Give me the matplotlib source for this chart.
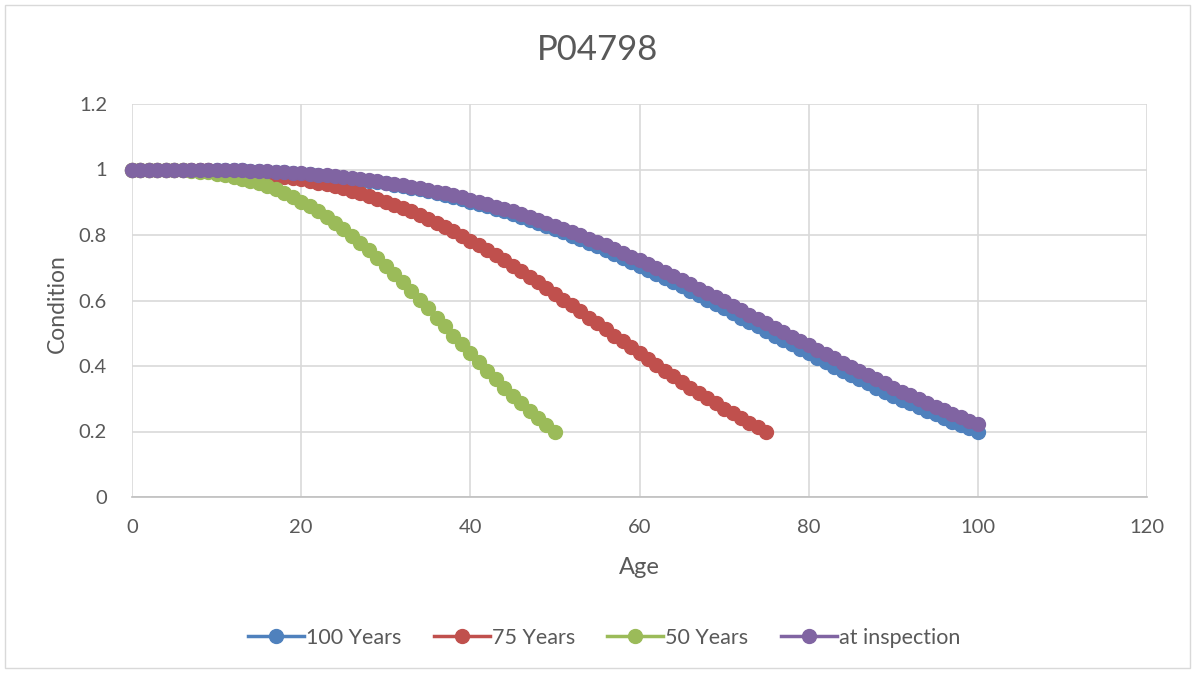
import matplotlib
matplotlib.use("Agg")
import matplotlib.pyplot as plt
from matplotlib.patches import Rectangle

# Condition curves by age (one value per year)
age_100 = list(range(0, 101))
cond_100 = [
    1.000, 1.000, 1.000, 1.000, 1.000, 1.000, 1.000, 0.999, 0.999, 0.999,
    0.998, 0.998, 0.997, 0.997, 0.996, 0.995, 0.993, 0.992, 0.991, 0.989,
    0.987, 0.985, 0.983, 0.981, 0.978, 0.975, 0.972, 0.969, 0.965, 0.962,
    0.958, 0.953, 0.949, 0.944, 0.939, 0.933, 0.928, 0.922, 0.916, 0.909,
    0.902, 0.895, 0.888, 0.880, 0.872, 0.864, 0.855, 0.846, 0.837, 0.828,
    0.818, 0.808, 0.798, 0.787, 0.776, 0.765, 0.754, 0.742, 0.731, 0.719,
    0.706, 0.694, 0.681, 0.669, 0.656, 0.643, 0.630, 0.616, 0.603, 0.589,
    0.576, 0.562, 0.548, 0.535, 0.521, 0.507, 0.493, 0.480, 0.466, 0.452,
    0.439, 0.425, 0.412, 0.398, 0.385, 0.372, 0.359, 0.347, 0.334, 0.322,
    0.309, 0.297, 0.286, 0.274, 0.263, 0.252, 0.241, 0.230, 0.220, 0.210,
    0.200,
]

age_75 = list(range(0, 76))
cond_75 = [
    1.000, 1.000, 1.000, 1.000, 1.000, 1.000, 0.999, 0.999, 0.998, 0.997,
    0.996, 0.995, 0.993, 0.992, 0.990, 0.987, 0.985, 0.981, 0.978, 0.974,
    0.970, 0.965, 0.960, 0.955, 0.949, 0.942, 0.935, 0.928, 0.920, 0.911,
    0.902, 0.893, 0.883, 0.872, 0.861, 0.849, 0.837, 0.824, 0.811, 0.798,
    0.783, 0.769, 0.754, 0.738, 0.723, 0.706, 0.690, 0.673, 0.656, 0.638,
    0.621, 0.603, 0.585, 0.567, 0.548, 0.530, 0.512, 0.493, 0.475, 0.457,
    0.439, 0.421, 0.403, 0.385, 0.368, 0.351, 0.334, 0.318, 0.301, 0.286,
    0.270, 0.255, 0.241, 0.227, 0.213, 0.200,
]

age_50 = list(range(0, 51))
cond_50 = [
    1.000, 1.000, 1.000, 1.000, 0.999, 0.998, 0.997, 0.996, 0.993, 0.991,
    0.987, 0.983, 0.978, 0.972, 0.965, 0.958, 0.949, 0.939, 0.928, 0.916,
    0.902, 0.888, 0.872, 0.855, 0.837, 0.818, 0.798, 0.776, 0.754, 0.731,
    0.706, 0.681, 0.656, 0.630, 0.603, 0.576, 0.548, 0.521, 0.493, 0.466,
    0.439, 0.412, 0.385, 0.359, 0.334, 0.309, 0.286, 0.263, 0.241, 0.220,
    0.200,
]

age_insp = list(range(0, 101))
cond_insp = [
    1.000, 1.000, 1.000, 1.000, 1.000, 1.000, 1.000, 1.000, 0.999, 0.999,
    0.999, 0.998, 0.997, 0.997, 0.996, 0.995, 0.994, 0.993, 0.991, 0.990,
    0.988, 0.986, 0.984, 0.982, 0.979, 0.977, 0.974, 0.971, 0.968, 0.964,
    0.960, 0.956, 0.952, 0.947, 0.943, 0.938, 0.932, 0.927, 0.921, 0.915,
    0.908, 0.902, 0.895, 0.887, 0.880, 0.872, 0.864, 0.856, 0.847, 0.838,
    0.829, 0.819, 0.810, 0.800, 0.789, 0.779, 0.768, 0.757, 0.746, 0.734,
    0.723, 0.711, 0.699, 0.687, 0.674, 0.662, 0.649, 0.636, 0.623, 0.610,
    0.597, 0.584, 0.571, 0.557, 0.544, 0.530, 0.517, 0.503, 0.490, 0.477,
    0.463, 0.450, 0.437, 0.423, 0.410, 0.397, 0.384, 0.372, 0.359, 0.347,
    0.334, 0.322, 0.310, 0.298, 0.287, 0.276, 0.265, 0.254, 0.243, 0.233,
    0.222,
]

series = [
    ("100 Years", age_100, cond_100, "#4F81BD"),
    ("75 Years", age_75, cond_75, "#C0504D"),
    ("50 Years", age_50, cond_50, "#9BBB59"),
    ("at inspection", age_insp, cond_insp, "#8064A2"),
]

x_ticks = [0, 20, 40, 60, 80, 100, 120]
y_ticks = [0, 0.2, 0.4, 0.6, 0.8, 1.0, 1.2]
y_tick_labels = ["0", "0.2", "0.4", "0.6", "0.8", "1", "1.2"]

W, H = 1196, 674
plt.rcParams["font.family"] = ["Lato", "DejaVu Sans"]
text_color = "#595959"
grid_color = "#d9d9d9"

fig = plt.figure(figsize=(W / 100, H / 100), dpi=100)
fig.patch.set_facecolor("white")

# thin frame around the whole chart
fig.patches.append(Rectangle((5 / W, 1 - 668 / H), (1190 - 5) / W, (668 - 5) / H,
                             transform=fig.transFigure, fill=False,
                             edgecolor="#d9d9d9", linewidth=1.0))

left, right, top, bottom = 132, 1147, 104, 497
ax = fig.add_axes([left / W, 1 - bottom / H, (right - left) / W, (bottom - top) / H])

for name, xs, ys, col in series:
    ax.plot(xs, ys, color=col, linewidth=2.5, marker="o", markersize=10,
            markeredgecolor=col, markerfacecolor=col, label=name, zorder=3,
            clip_on=False)

ax.set_xlim(0, 120)
ax.set_ylim(0, 1.2)
ax.set_xticks(x_ticks)
ax.set_xticklabels([str(v) for v in x_ticks])
ax.set_yticks(y_ticks)
ax.set_yticklabels(y_tick_labels)
ax.grid(True, color=grid_color, linewidth=1.2, zorder=0)
ax.set_axisbelow(True)
for s in ["top", "right", "left"]:
    ax.spines[s].set_visible(False)
ax.spines["bottom"].set_color("#bfbfbf")
ax.spines["bottom"].set_linewidth(1.2)
ax.tick_params(axis="both", length=0, labelsize=14.5, colors=text_color)
ax.tick_params(axis="x", pad=16)
ax.tick_params(axis="y", pad=18)

fig.text(598 / W, 1 - 50 / H, "P04798", ha="center", va="center",
         fontsize=25, color=text_color)
fig.text(57 / W, 1 - 304 / H, "Condition", rotation=90, ha="center", va="center",
         fontsize=16.5, color=text_color)
fig.text(639 / W, 1 - 568 / H, "Age", ha="center", va="center",
         fontsize=17, color=text_color)

handles, labels = ax.get_legend_handles_labels()
fig.legend(handles, labels, loc="center", bbox_to_anchor=(604 / W, 1 - 638 / H),
           ncol=4, frameon=False, fontsize=15.5, labelcolor=text_color,
           handlelength=2.6, handletextpad=0.1, columnspacing=1.5)

fig.savefig("out.png", dpi=100, facecolor="white")
